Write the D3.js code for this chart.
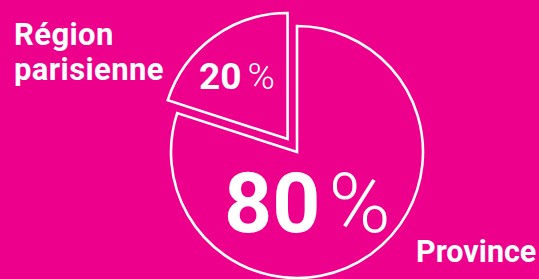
<!DOCTYPE html>
<html>
<head>
<meta charset="utf-8">
<script src="https://cdn.jsdelivr.net/npm/d3@7"></script>
<style>
  html, body { margin: 0; padding: 0; background: #ec008c; }
  svg { display: block; }
  text { fill: #fff; font-family: Roboto, "Noto Sans", sans-serif; }
</style>
</head>
<body>
<div id="chart"></div>
<script>
// data
var categories = ["Province", "Région parisienne"];
var values = [80, 20];
var pctLabels = ["80", "20"];

var width = 539, height = 279;
var cx = 297, cy = 152, radius = 126, explode = 16;

var svg = d3.select("#chart")
    .append("svg")
    .attr("width", width)
    .attr("height", height);

svg.append("rect")
    .attr("width", width)
    .attr("height", height)
    .attr("fill", "#ec008c");

var pie = d3.pie().sort(null).value(function(d) { return d; });
var arcs = pie(values);

var arc = d3.arc().innerRadius(0).outerRadius(radius);

var g = svg.append("g").attr("transform", "translate(" + cx + "," + cy + ")");

g.selectAll("path")
    .data(arcs)
    .enter()
    .append("path")
    .attr("d", arc)
    .attr("transform", function(d, i) {
        if (i === 0) return null;
        var a = (d.startAngle + d.endAngle) / 2;
        return "translate(" + (Math.sin(a) * explode) + "," + (-Math.cos(a) * explode) + ")";
    })
    .attr("fill", "none")
    .attr("stroke", "#fff")
    .attr("stroke-width", 2.6)
    .attr("stroke-linejoin", "miter");

// big percentage inside the Province slice
var t80 = svg.append("text")
    .attr("x", 224)
    .attr("y", 232);
t80.append("tspan")
    .attr("font-size", 84)
    .attr("font-weight", 700)
    .text(pctLabels[0]);
t80.append("tspan")
    .attr("dx", 8)
    .attr("font-size", 84)
    .attr("font-weight", 300)
    .text("%");

// small percentage inside the exploded slice
var t20 = svg.append("text")
    .attr("x", 199)
    .attr("y", 89);
t20.append("tspan")
    .attr("font-size", 37)
    .attr("font-weight", 700)
    .text(pctLabels[1]);
t20.append("tspan")
    .attr("dx", 6)
    .attr("font-size", 37)
    .attr("font-weight", 300)
    .text("%");

// category labels
var regLabel = svg.append("text")
    .attr("font-size", 31)
    .attr("font-weight", 700)
    .attr("letter-spacing", 0.4);
regLabel.append("tspan").attr("x", 14).attr("y", 45).text("Région");
regLabel.append("tspan").attr("x", 14).attr("y", 80).text("parisienne");

svg.append("text")
    .attr("x", 416)
    .attr("y", 262)
    .attr("font-size", 30.5)
    .attr("font-weight", 700)
    .text(categories[0]);
</script>
</body>
</html>
